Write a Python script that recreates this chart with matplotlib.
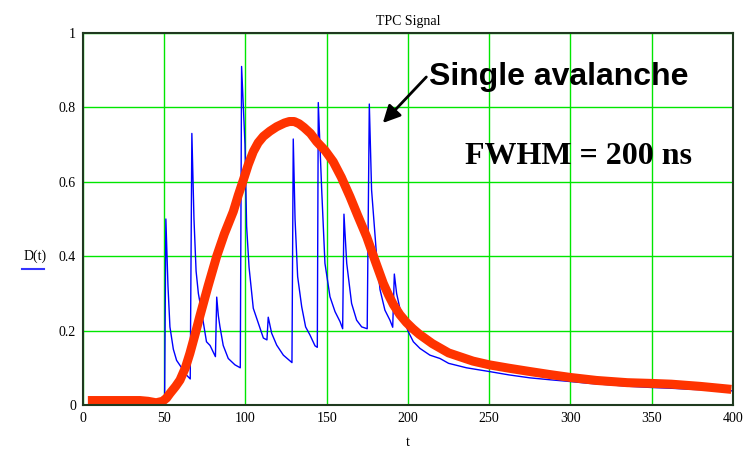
import matplotlib
matplotlib.use("Agg")
import matplotlib.pyplot as plt
from matplotlib.lines import Line2D

plt.rcParams['font.family'] = ['Liberation Serif', 'DejaVu Serif']

sig_t = [0, 50.2, 51.0, 52.3, 53.5, 55.6, 57.6, 60.7, 63.8, 66.0,
         67.0, 68.3, 69.6, 71.0, 73.0, 76.0, 78.2, 81.5,
         82.3, 83.3, 84.3, 86.3, 89.4, 93.5, 96.8,
         97.6, 99.7, 100.7, 102.2, 104.8, 107.9, 111.0, 113.2,
         114.0, 116.1, 119.2, 123.3, 128.6,
         129.4, 130.5, 132.1, 134.6, 137.0, 139.7, 142.8, 144.2,
         144.8, 146.9, 148.9, 152.0, 155.1, 158.2, 159.8,
         160.6, 162.3, 165.3, 168.4, 171.5, 174.9,
         176.2, 177.6, 180.7, 182.8, 185.8, 188.9, 190.6,
         191.6, 193.0, 195.0, 198.2, 200.2, 203.3, 207.4, 213.5, 219.7,
         225, 236, 250, 262, 275, 287, 300, 312, 325, 337, 350, 362, 375, 387, 400]
sig_d = [0, 0, 0.50, 0.32, 0.21, 0.15, 0.12, 0.10, 0.08, 0.07,
         0.73, 0.50, 0.36, 0.30, 0.25, 0.17, 0.16, 0.13,
         0.29, 0.24, 0.21, 0.16, 0.125, 0.108, 0.10,
         0.91, 0.70, 0.48, 0.37, 0.26, 0.22, 0.18, 0.175,
         0.236, 0.193, 0.161, 0.134, 0.114,
         0.715, 0.50, 0.345, 0.264, 0.21, 0.188, 0.159, 0.155,
         0.813, 0.578, 0.381, 0.291, 0.251, 0.224, 0.205,
         0.513, 0.381, 0.273, 0.228, 0.21, 0.205,
         0.809, 0.578, 0.40, 0.31, 0.255, 0.228, 0.209,
         0.352, 0.30, 0.26, 0.22, 0.197, 0.17, 0.152, 0.134, 0.125,
         0.112, 0.10, 0.09, 0.081, 0.073, 0.068, 0.063, 0.058, 0.054, 0.050, 0.047, 0.045, 0.042, 0.040, 0.038]

# single avalanche response (thick red curve)
aval_t = [3, 20, 35, 40, 45, 49, 51.5, 53.5, 57, 59.7, 63, 65.8, 69, 72, 77, 82.3, 87, 92.5,
          95.5, 98.7, 101.7, 104.8, 107.8, 111, 115, 119.2, 124, 127, 130, 133, 136,
          140, 143.8, 149, 154, 159, 164.3, 169, 174.6, 180, 184.8, 188, 191, 195,
          199, 203, 207, 215, 225, 240, 250, 262, 275, 287, 300, 316, 335, 350, 362,
          380, 399]
aval_d = [0.012, 0.012, 0.012, 0.010, 0.006, 0.010, 0.019, 0.031, 0.05, 0.067, 0.10, 0.139, 0.19, 0.24, 0.32, 0.40, 0.46, 0.52,
          0.563, 0.605, 0.646, 0.681, 0.705, 0.722, 0.736, 0.748, 0.758, 0.762, 0.762, 0.756, 0.746,
          0.73, 0.708, 0.684, 0.654, 0.612, 0.56, 0.51, 0.452, 0.385, 0.327, 0.296, 0.27, 0.243,
          0.222, 0.205, 0.19, 0.165, 0.14, 0.118, 0.108, 0.099, 0.09, 0.082, 0.074, 0.066, 0.06, 0.058, 0.056,
          0.05, 0.042]

x_ticks = [0, 50, 100, 150, 200, 250, 300, 350, 400]
y_ticks = [0, 0.2, 0.4, 0.6, 0.8, 1.0]
y_labels = ["0", "0.2", "0.4", "0.6", "0.8", "1"]

fig = plt.figure(figsize=(7.49, 4.5), dpi=100)
ax = fig.add_axes([0.1108, 0.1, 0.8678, 0.8267])

ax.set_xlim(0, 400)
ax.set_ylim(0, 1)
ax.set_xticks(x_ticks)
ax.set_yticks(y_ticks)
ax.set_yticklabels(y_labels)
ax.tick_params(length=0, labelsize=10, pad=5)
ax.grid(True, color='#00e600', linewidth=1.0)
ax.set_axisbelow(True)
for s in ax.spines.values():
    s.set_color('#1f3a1f')
    s.set_linewidth(1.5)

ax.plot(sig_t, sig_d, color='#0000ff', linewidth=1.0)
ax.plot(aval_t, aval_d, color='#ff3300', linewidth=6.5, solid_capstyle='butt',
        solid_joinstyle='round')

ax.set_title("TPC Signal", fontsize=10, pad=6)
ax.set_xlabel("t", fontsize=10, labelpad=8)

# y label drawn like the original: text with a short blue underline
fig.text(0.047, 0.415, "D(t)", fontsize=10, ha='center', va='bottom')
fig.add_artist(Line2D([0.029, 0.059], [0.402, 0.402], color='#3333ff', linewidth=1.5))

ax.annotate("Single avalanche", xy=(184.5, 0.758), xytext=(213, 0.86),
            fontsize=23, fontweight='bold', family='Liberation Sans',
            ha='left', va='baseline',
            arrowprops=dict(arrowstyle='-|>', color='black', lw=2,
                            mutation_scale=26, shrinkA=0, shrinkB=0,
                            relpos=(0, 0.6)))
ax.text(235, 0.648, "FWHM = 200 ns", fontsize=23, fontweight='bold',
        ha='left', va='baseline')

fig.savefig("out.png", dpi=100)
